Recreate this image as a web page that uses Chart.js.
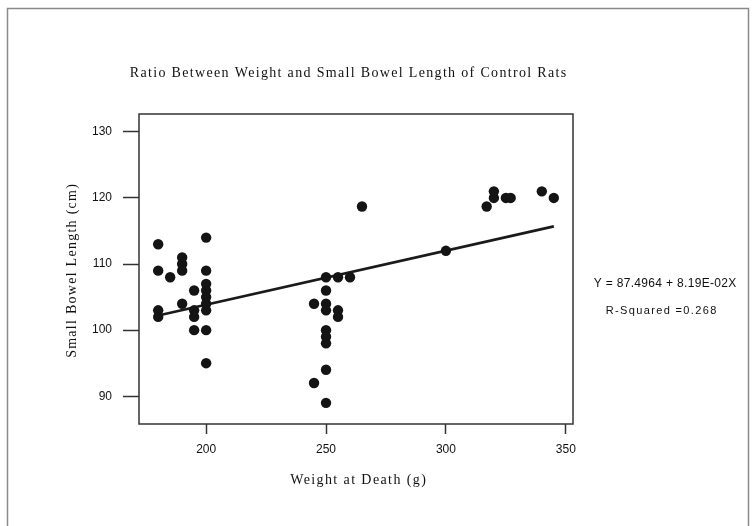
<!DOCTYPE html>
<html>
<head>
<meta charset="utf-8">
<title>Ratio Between Weight and Small Bowel Length of Control Rats</title>
<script src="https://cdn.jsdelivr.net/npm/chart.js@4.4.1/dist/chart.umd.min.js"></script>
<style>
    html, body { margin: 0; padding: 0; background: #fff; }
    #wrap { position: relative; width: 756px; height: 526px; }
</style>
</head>
<body>
<div id="wrap"><canvas id="chart" width="756" height="526"></canvas></div>
<script>
// ===================================
// DATA
// ===================================

// weight at death (g)
const weights = [
    180, 180, 180, 180,
    185,
    190, 190, 190, 190,
    195, 195, 195, 195,
    200, 200, 200, 200, 200, 200, 200, 200, 200,
    245, 245,
    250, 250, 250, 250, 250, 250, 250, 250, 250,
    255, 255, 255,
    260, 265, 300, 317, 320, 320, 325, 327, 340, 345
];

// small bowel length (cm)
const lengths = [
    113, 109, 103, 102,
    108,
    111, 110, 109, 104,
    106, 103, 102, 100,
    114, 109, 107, 106, 105, 104, 103, 100, 95,
    104, 92,
    108, 106, 104, 103, 100, 99, 98, 94, 89,
    108, 103, 102,
    108, 118.7, 112, 118.7, 121, 120, 120, 120, 121, 120
];

// fitted line end points
const fitX = [180, 345];
const fitY = [102.2, 115.7];

const xTicks = [200, 250, 300, 350];
const yTicks = [90, 100, 110, 120, 130];

const chartTitle = 'Ratio Between Weight and Small Bowel Length of Control Rats';
const xTitle = 'Weight at Death (g)';
const yTitle = 'Small Bowel Length (cm)';
const fitLines = ['Y = 87.4964 + 8.19E-02X', 'R-Squared =0.268'];

// ===================================
// HELPERS
// ===================================

/**
 * Draw centred text stretched to a given width with letter spacing
 */
function spacedText(ctx, text, x, y, font, width) {
    ctx.font = font;
    ctx.letterSpacing = '0px';
    const w = ctx.measureText(text).width;
    const sp = Math.max(0, (width - w) / text.length);
    ctx.letterSpacing = sp.toFixed(2) + 'px';
    ctx.textAlign = 'center';
    ctx.textBaseline = 'middle';
    ctx.fillText(text, x + sp / 2, y);
    ctx.letterSpacing = '0px';
}

const decorPlugin = {
    id: 'decor',
    beforeDraw(chart) {
        const ctx = chart.ctx;
        ctx.save();
        // outer frame
        ctx.strokeStyle = '#8a8a8a';
        ctx.lineWidth = 1.5;
        ctx.beginPath();
        ctx.moveTo(7.5, 526);
        ctx.lineTo(7.5, 8.5);
        ctx.lineTo(748.5, 8.5);
        ctx.lineTo(748.5, 526);
        ctx.stroke();
        ctx.restore();
    },
    afterDraw(chart) {
        const ctx = chart.ctx;
        const a = chart.chartArea;
        ctx.save();
        // plot box
        ctx.strokeStyle = '#333';
        ctx.lineWidth = 1.5;
        ctx.strokeRect(a.left, a.top, a.right - a.left, a.bottom - a.top);

        ctx.fillStyle = '#111';
        spacedText(ctx, chartTitle, 348, 73, '14px "Liberation Serif"', 438);
        spacedText(ctx, xTitle, (a.left + a.right) / 2 + 2, 480, '14px "Liberation Serif"', 137);

        ctx.translate(72, (a.top + a.bottom) / 2 + 2);
        ctx.rotate(-Math.PI / 2);
        spacedText(ctx, yTitle, 0, 0, '14px "Liberation Serif"', 175);
        ctx.setTransform(1, 0, 0, 1, 0, 0);

        spacedText(ctx, fitLines[0], 665, 284, '12px "Liberation Sans"', 143);
        spacedText(ctx, fitLines[1], 661, 311, '11px "Liberation Sans"', 112);
        ctx.restore();
    }
};

// ===================================
// CHART
// ===================================

const ctx = document.getElementById('chart').getContext('2d');

new Chart(ctx, {
    type: 'scatter',
    data: {
        datasets: [
            {
                label: 'Rats',
                data: weights.map((w, i) => ({ x: w, y: lengths[i] })),
                pointRadius: 5.2,
                pointHoverRadius: 5.2,
                pointBackgroundColor: '#141414',
                pointBorderWidth: 0,
                order: 1
            },
            {
                label: 'Fit',
                type: 'line',
                data: fitX.map((x, i) => ({ x: x, y: fitY[i] })),
                borderColor: '#1a1a1a',
                borderWidth: 2.6,
                pointRadius: 0,
                fill: false,
                order: 2
            }
        ]
    },
    options: {
        responsive: false,
        animation: false,
        layout: {
            padding: { left: 0, right: 183, top: 114, bottom: 0 }
        },
        plugins: {
            legend: { display: false },
            title: { display: false },
            tooltip: { enabled: false }
        },
        scales: {
            x: {
                type: 'linear',
                min: 172,
                max: 353,
                afterBuildTicks: (scale) => { scale.ticks = xTicks.map(v => ({ value: v })); },
                afterFit: (scale) => { scale.height = 102; },
                grid: {
                    drawOnChartArea: false,
                    drawTicks: true,
                    tickLength: 10,
                    tickWidth: 1.5,
                    tickColor: '#333'
                },
                border: { display: false },
                ticks: {
                    padding: 8,
                    color: '#111',
                    maxRotation: 0,
                    font: { family: 'Liberation Sans', size: 12 }
                }
            },
            y: {
                type: 'linear',
                min: 85.8,
                max: 132.7,
                afterBuildTicks: (scale) => { scale.ticks = yTicks.map(v => ({ value: v })); },
                afterFit: (scale) => { scale.width = 139; },
                grid: {
                    drawOnChartArea: false,
                    drawTicks: true,
                    tickLength: 16,
                    tickWidth: 1.5,
                    tickColor: '#333'
                },
                border: { display: false },
                ticks: {
                    padding: 11,
                    color: '#111',
                    font: { family: 'Liberation Sans', size: 12 }
                }
            }
        }
    },
    plugins: [decorPlugin]
});
</script>
</body>
</html>
